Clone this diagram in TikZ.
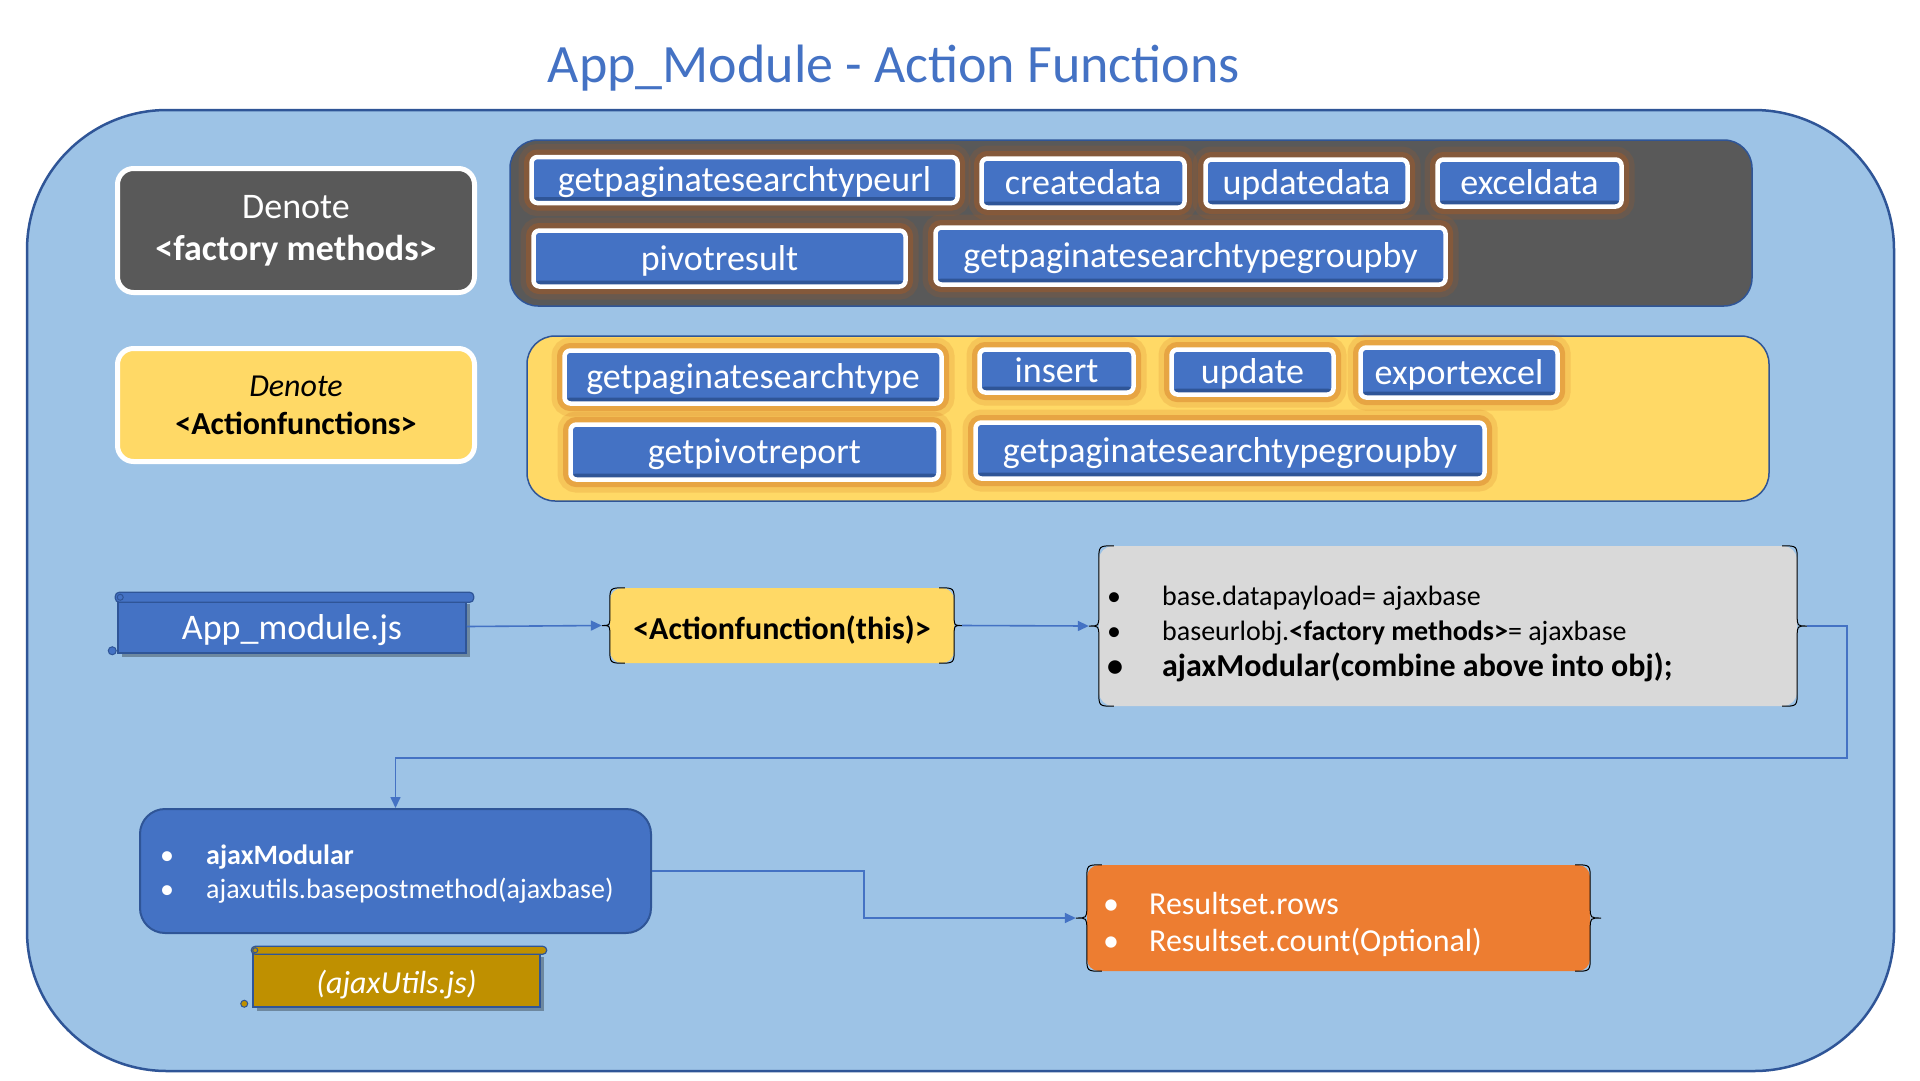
\documentclass[tikz,border=0pt]{standalone}
\usepackage{fontspec}
\setmainfont{Carlito}
\usetikzlibrary{calc,arrows.meta,shadows}
\definecolor{cblue}{HTML}{4472C4}
\definecolor{cdark}{HTML}{2F5597}
\definecolor{bgblue}{HTML}{9DC3E6}
\definecolor{cgray}{HTML}{595959}
\definecolor{cyel}{HTML}{FFD966}
\definecolor{clight}{HTML}{D9D9D9}
\definecolor{corange}{HTML}{ED7D31}
\definecolor{cgold}{HTML}{BF9000}
\definecolor{glowc}{HTML}{C55A11}
\newcommand\fs[1]{\fontsize{#1}{#1}\selectfont}
\newcommand\fsl[2]{\fontsize{#1}{#2}\selectfont}
\newcommand\bul[1]{\makebox[#1][l]{\textbullet}}
\newcommand\dbraces[2]{%
  \draw[braceline] ($(#1.north west)+(15,0)$) .. controls (#1.north west) .. ($(#1.north west)+(0,15)$)
    -- ($(#1.west)+(0,-#2)$) .. controls (#1.west) .. ($(#1.west)+(-#2,0)$)
    .. controls (#1.west) .. ($(#1.west)+(0,#2)$)
    -- ($(#1.south west)+(0,-15)$) .. controls (#1.south west) .. ($(#1.south west)+(15,0)$);
  \draw[braceline] ($(#1.north east)+(-15,0)$) .. controls (#1.north east) .. ($(#1.north east)+(0,15)$)
    -- ($(#1.east)+(0,-#2)$) .. controls (#1.east) .. ($(#1.east)+(#2,0)$)
    .. controls (#1.east) .. ($(#1.east)+(0,#2)$)
    -- ($(#1.south east)+(0,-15)$) .. controls (#1.south east) .. ($(#1.south east)+(-15,0)$);
  \coordinate (#1L) at ($(#1.west)+(-#2,0)$);
  \coordinate (#1R) at ($(#1.east)+(#2,0)$);
}
\tikzset{
  panel/.style={draw=cdark, line width=1.5pt, rounded corners=28pt},
  denote/.style={draw=white, line width=5pt, rounded corners=16pt, align=center, inner sep=0pt},
  btn/.style={rounded corners=6pt, fill=cblue, draw=white, line width=4.5pt, text=white,
    font=\fs{36}, inner sep=0pt, text height=28pt, text depth=5pt,
    preaction={draw=glowc, draw opacity=0.15, line width=26pt},
    preaction={draw=glowc, draw opacity=0.3, line width=15pt},
    path picture={\fill[cdark] ([yshift=-2pt]path picture bounding box.south west) rectangle ([yshift=6pt]path picture bounding box.south east);}},
  scrollbody/.style={draw=cdark, line width=1.5pt, inner sep=0pt,
    drop shadow={shadow xshift=4pt, shadow yshift=-4pt, opacity=0.3, fill=black}},
  bracebox/.style={inner sep=0pt, draw=none},
  braceline/.style={draw=black, line width=1pt},
  item/.style={anchor=base west, inner sep=0pt},
  conn/.style={draw=cblue, line width=1.6pt, -{Triangle[length=11pt,width=10pt]}},
}
\begin{document}
\begin{tikzpicture}[x=1pt,y=-1pt]
\useasboundingbox (0,0) rectangle (1920,1080);
\fill[white] (0,0) rectangle (1920,1080);

% container
\path[draw=cdark, line width=2.5pt, fill=bgblue, rounded corners=140pt] (27,110) rectangle (1894,1071);

% title
\node[font=\fs{54}, text=cblue, anchor=base, inner sep=0pt] (title) at (894,82) {App\_Module - Action Functions};

% panels
\path[panel, fill=cgray] (510,140) rectangle (1752,306);
\path[panel, fill=cyel] (527,336) rectangle (1769,501);

% denote boxes
\node[denote, fill=cgray, text=white, font=\fsl{36}{42}, minimum width=357, minimum height=124] (d1) at (296,230.5) {Denote\\\textbf{<factory methods>}};
\node[denote, fill=cyel, text=black, font=\fsl{32}{38}, minimum width=357, minimum height=113] (d2) at (296,405) {\textit{Denote}\\\textbf{<Actionfunctions>}};

% factory method buttons
\node[btn, minimum width=426, minimum height=46] (b1) at (744.5,180) {getpaginatesearchtypeurl};
\node[btn, minimum width=203, minimum height=49] (b2) at (1083,183) {createdata};
\node[btn, minimum width=202, minimum height=47] (b3) at (1306.5,183) {updatedata};
\node[btn, minimum width=184, minimum height=47] (b4) at (1529.5,183) {exceldata};
\node[btn, minimum width=372, minimum height=56] (b5) at (719.5,258.5) {pivotresult};
\node[btn, minimum width=510, minimum height=57] (b6) at (1190.5,256) {getpaginatesearchtypegroupby};

% action function buttons
\node[btn, minimum width=377, minimum height=53] (c1) at (753,377) {getpaginatesearchtype};
\node[btn, minimum width=154, minimum height=43] (c2) at (1056.5,371) {insert};
\node[btn, minimum width=162, minimum height=45] (c3) at (1252.5,372) {update};
\node[btn, minimum width=197, minimum height=50] (c4) at (1459,372.5) {exportexcel};
\node[btn, minimum width=368, minimum height=55] (c5) at (754.5,452) {getpivotreport};
\node[btn, minimum width=509, minimum height=56] (c6) at (1230,450.5) {getpaginatesearchtypegroupby};

% App_module.js scroll
\node[scrollbody, fill=cblue, text=white, font=\fs{36}, text height=31pt, text depth=5pt,
      minimum width=348, minimum height=53] (app) at (292,626.5) {App\_module.js};
\draw[cdark, fill=cblue, line width=1.2pt, rounded corners=4pt] ($(app.north west)+(-2,-7)$) rectangle ($(app.north east)+(7,3)$);
\draw[cdark, line width=1pt] ($(app.north west)+(3,-2)$) circle (3pt);
\draw[cdark, fill=cblue, line width=1pt] ($(app.south west)+(-5,-3)$) circle (4pt);

% Actionfunction(this)
\node[bracebox, fill=cyel, rounded corners=12pt, font=\bfseries\fs{32}, text height=35pt, text depth=7pt,
      minimum width=344, minimum height=75] (af) at (782,625.5) {<Actionfunction(this)>};
\dbraces{af}{8}

% gray box
\node[bracebox, fill=clight, rounded corners=14pt, minimum width=698, minimum height=160] (gbox) at (1448,626) {};
\dbraces{gbox}{10}
\node[item, font=\fs{28}] (g1) at (1107,605) {\bul{55pt}base.datapayload= ajaxbase};
\node[item, font=\fs{28}] (g2) at (1107,640) {\bul{55pt}baseurlobj.\textbf{<factory methods>}= ajaxbase};
\node[item, font=\bfseries\fs{32}] (g3) at (1107,676) {\bul{55pt}ajaxModular(combine above into obj);};

% ajaxModular box
\node[draw=cdark, line width=2pt, fill=cblue, rounded corners=25pt, minimum width=511, minimum height=124, inner sep=0pt] (ajax) at (395.5,871) {};
\node[item, font=\fs{28}, text=white] (a1) at (160,864) {\bul{46pt}\textbf{ajaxModular}};
\node[item, font=\fs{28}, text=white] (a2) at (160,898) {\bul{46pt}ajaxutils.basepostmethod(ajaxbase)};

% ajaxUtils.js scroll
\node[scrollbody, fill=cgold, text=white, font=\itshape\fs{32}, text height=31pt, text depth=5pt,
      minimum width=287, minimum height=54] (util) at (396.5,980) {(ajaxUtils.js)};
\draw[cdark, fill=cgold, line width=1.2pt, rounded corners=4pt] ($(util.north west)+(-1,-6)$) rectangle ($(util.north east)+(6,2)$);
\draw[cdark, line width=1pt] ($(util.north west)+(3,-2)$) circle (2.5pt);
\draw[cdark, fill=cgold, line width=1pt] ($(util.south west)+(-8,-4)$) circle (3.5pt);

% result box
\node[bracebox, fill=corange, rounded corners=12pt, minimum width=503, minimum height=106] (res) at (1338.5,918) {};
\dbraces{res}{11}
\node[item, font=\fs{32}, text=white] (r1) at (1103,914) {\bul{46pt}Resultset.rows};
\node[item, font=\fs{32}, text=white] (r2) at (1103,951) {\bul{46pt}Resultset.count(Optional)};

% connectors
\coordinate (k1) at (1847,758);
\coordinate (k2) at (864,871);
\draw[conn] (app.east) -- (afL);
\draw[conn] (afR) -- (gboxL);
\draw[conn] (gboxR) -| (k1) -| (ajax.north);
\draw[conn] (ajax.east) -- (k2) |- (resL);
\end{tikzpicture}
\end{document}
